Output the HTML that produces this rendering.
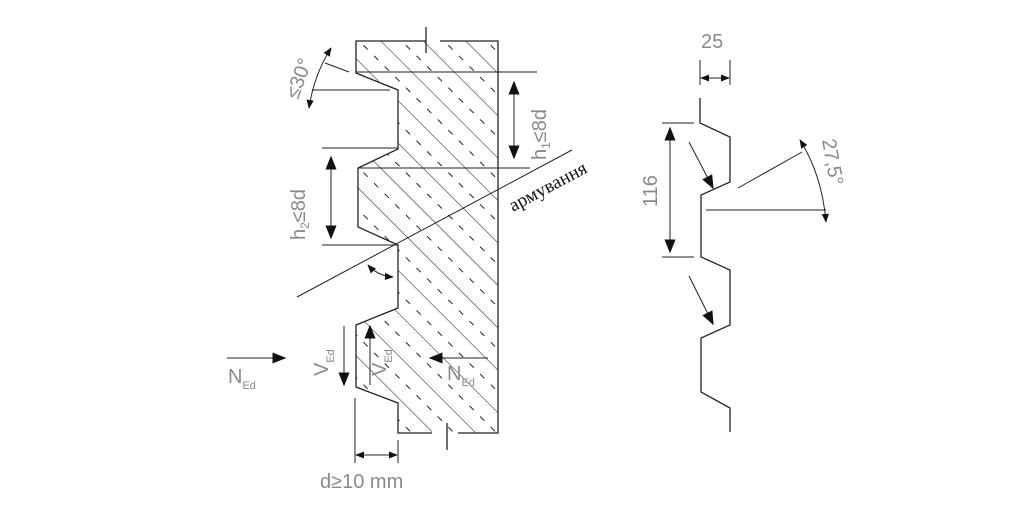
<!DOCTYPE html>
<html><head><meta charset="utf-8"><style>
html,body{margin:0;padding:0;background:#fff;width:1024px;height:512px;overflow:hidden}
svg text{font-family:"Liberation Sans",sans-serif;fill:#8a8a8a}
</style></head><body>
<svg width="1024" height="512" viewBox="0 0 1024 512" xmlns="http://www.w3.org/2000/svg">
<defs>
<pattern id="h" patternUnits="userSpaceOnUse" width="30" height="30" patternTransform="rotate(-45)">
<line x1="0" y1="0" x2="0" y2="30" stroke="#222" stroke-width="1.1"/>
<line x1="15" y1="4" x2="15" y2="10" stroke="#222" stroke-width="1"/>
<line x1="15" y1="19" x2="15" y2="25" stroke="#222" stroke-width="1"/>
</pattern>
<marker id="a" viewBox="0 0 10 10" refX="9" refY="5" markerWidth="9" markerHeight="9" orient="auto-start-reverse" markerUnits="userSpaceOnUse"><path d="M0,1 L10,5 L0,9 Z" fill="#111"/></marker>
<marker id="b" viewBox="0 0 10 10" refX="9" refY="5" markerWidth="14" markerHeight="14" orient="auto-start-reverse" markerUnits="userSpaceOnUse"><path d="M0,1 L10,5 L0,9 Z" fill="#111"/></marker>
</defs>
<g stroke="#222" stroke-width="1.3" fill="none">
<path d="M356,41 L498,41 L498,433 L398,433 L398,403 L356,387 L356,325 L398,308 L398,245 L358,227 L358,168 L398,149 L398,90 L356,73 Z" fill="url(#h)"/>
<path d="M426,41 L440,41 M432,433 L458,433" stroke="#fff" stroke-width="3"/>
<line x1="426" y1="27" x2="426" y2="53"/>
<line x1="447" y1="423" x2="447" y2="450"/>
<line x1="356" y1="72" x2="537" y2="72" stroke-width="1"/>
<line x1="312" y1="90" x2="390" y2="90" stroke-width="1"/>
<line x1="322" y1="148" x2="398" y2="148" stroke-width="1"/>
<line x1="358" y1="168" x2="530" y2="168" stroke-width="1"/>
<line x1="322" y1="245" x2="398" y2="245" stroke-width="1"/>
<line x1="297" y1="297" x2="572" y2="150" stroke-width="1"/>
<line x1="514" y1="82" x2="514" y2="158" stroke-width="1" marker-start="url(#b)" marker-end="url(#b)"/>
<line x1="331" y1="157" x2="331" y2="238" stroke-width="1" marker-start="url(#b)" marker-end="url(#b)"/>
<path d="M331,48 Q314,75 309,108" stroke-width="1" marker-start="url(#a)" marker-end="url(#a)"/>
<line x1="325" y1="63" x2="349" y2="72" stroke-width="1"/>
<path d="M368,265 Q378,276 393,277" stroke-width="1" marker-start="url(#a)" marker-end="url(#a)"/>
<line x1="227" y1="358" x2="285" y2="358" stroke-width="1" marker-end="url(#b)"/>
<line x1="344" y1="326" x2="344" y2="385" stroke-width="1" marker-end="url(#b)"/>
<line x1="370" y1="385" x2="370" y2="326" stroke-width="1" marker-end="url(#b)"/>
<line x1="488" y1="358" x2="430" y2="358" stroke-width="1" marker-end="url(#b)"/>
<line x1="355" y1="398" x2="355" y2="463" stroke-width="1"/>
<line x1="398" y1="440" x2="398" y2="463" stroke-width="1"/>
<line x1="356" y1="455" x2="397" y2="455" stroke-width="1" marker-start="url(#a)" marker-end="url(#a)"/>
<path d="M700,98 L700,123 L730,137 L730,182 L701,195 L701,257 L730,270 L730,325 L701,338 L701,392 L730,408 L730,432"/>
<line x1="700" y1="60" x2="700" y2="85" stroke-width="1"/>
<line x1="730" y1="60" x2="730" y2="85" stroke-width="1"/>
<line x1="701" y1="78" x2="729" y2="78" stroke-width="1" marker-start="url(#a)" marker-end="url(#a)"/>
<line x1="662" y1="123" x2="694" y2="123" stroke-width="1"/>
<line x1="662" y1="257" x2="694" y2="257" stroke-width="1"/>
<line x1="670" y1="128" x2="670" y2="252" stroke-width="1" marker-start="url(#b)" marker-end="url(#b)"/>
<line x1="689" y1="142" x2="713" y2="188" stroke-width="1" marker-end="url(#b)"/>
<line x1="689" y1="276" x2="713" y2="324" stroke-width="1" marker-end="url(#b)"/>
<line x1="706" y1="210" x2="826" y2="210" stroke-width="1"/>
<line x1="738" y1="188" x2="802" y2="152" stroke-width="1"/>
<path d="M800,140 Q822,175 826,222" stroke-width="1" marker-start="url(#a)" marker-end="url(#a)"/>
</g>
<text x="0" y="0" font-size="20" transform="translate(298,100) rotate(-70)">≤30°</text>
<text x="0" y="0" font-size="20" transform="translate(546,160) rotate(-90)">h<tspan font-size="12" dy="4">1</tspan><tspan dy="-4">≤8d</tspan></text>
<text x="0" y="0" font-size="20" transform="translate(305,240) rotate(-90)">h<tspan font-size="12" dy="4">2</tspan><tspan dy="-4">≤8d</tspan></text>
<text x="0" y="0" font-size="19" style="font-family:'Liberation Serif',serif;fill:#111" transform="translate(513,212) rotate(-28)">армування</text>
<text x="228" y="383" font-size="20">N<tspan font-size="11" dy="6">Ed</tspan></text>
<text x="0" y="0" font-size="20" transform="translate(328,376) rotate(-90)">V<tspan font-size="11" dy="6">Ed</tspan></text>
<text x="0" y="0" font-size="20" transform="translate(386,376) rotate(-90)">V<tspan font-size="11" dy="6">Ed</tspan></text>
<text x="447" y="380" font-size="20">N<tspan font-size="11" dy="6">Ed</tspan></text>
<text x="320" y="488" font-size="20">d≥10 mm</text>
<text x="701" y="48" font-size="20">25</text>
<text x="0" y="0" font-size="20" transform="translate(657,207) rotate(-90)">116</text>
<text x="0" y="0" font-size="20" transform="translate(822,140) rotate(80)">27,5°</text>
</svg>
</body></html>
